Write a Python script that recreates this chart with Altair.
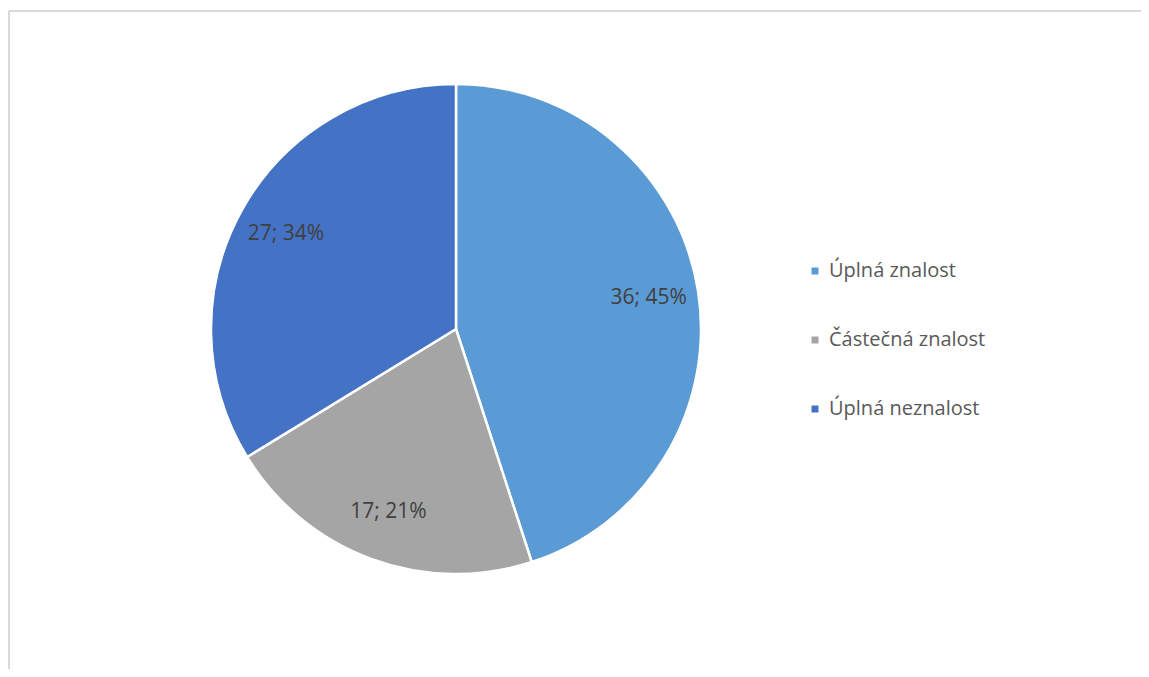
import altair as alt
import pandas as pd

categories = ["Úplná znalost", "Částečná znalost", "Úplná neznalost"]
counts = [36, 17, 27]
percent_labels = ["45%", "21%", "34%"]
colors = ["#5B9BD5", "#A5A5A5", "#4472C4"]

df = pd.DataFrame({
    "kategorie": categories,
    "pocet": counts,
    "poradi": list(range(len(categories))),
    "popisek": [f"{c}; {p}" for c, p in zip(counts, percent_labels)],
})

W, H = 1133, 661
CX, CY, R = 448, 321, 245

base = alt.Chart(df).encode(
    theta=alt.Theta("pocet:Q", stack=True),
    order=alt.Order("poradi:Q", sort="ascending"),
)

pie = base.mark_arc(outerRadius=R, stroke="white", strokeWidth=2.5).encode(
    x=alt.value(CX),
    y=alt.value(CY),
    color=alt.Color(
        "kategorie:N",
        scale=alt.Scale(domain=categories, range=colors),
        sort=categories,
        legend=alt.Legend(
            title=None,
            orient="none",
            legendX=797,
            legendY=253,
            symbolType="square",
            symbolSize=49,
            symbolStrokeWidth=0,
            labelFont="Open Sans",
            labelFontSize=20,
            labelColor="#595959",
            rowPadding=49,
            labelOffset=4,
        ),
    ),
)

labels = base.mark_text(
    radius=195, font="Open Sans", fontSize=21, color="#404040"
).encode(
    x=alt.value(CX),
    y=alt.value(CY),
    text="popisek:N",
)

border_top = alt.Chart(df).mark_rule(color="#D9D9D9", strokeWidth=1.5).encode(
    x=alt.value(1), x2=alt.value(W + 10), y=alt.value(3)
)
border_left = alt.Chart(df).mark_rule(color="#D9D9D9", strokeWidth=1.5).encode(
    x=alt.value(1), y=alt.value(3), y2=alt.value(H + 10)
)

chart = alt.layer(border_top, border_left, pie, labels).properties(
    width=W,
    height=H,
    padding=0,
    autosize=alt.AutoSizeParams(type="none"),
    background="white",
).configure_view(stroke=None)

chart.save("out.html", embed_options={"renderer": "svg", "actions": False})
